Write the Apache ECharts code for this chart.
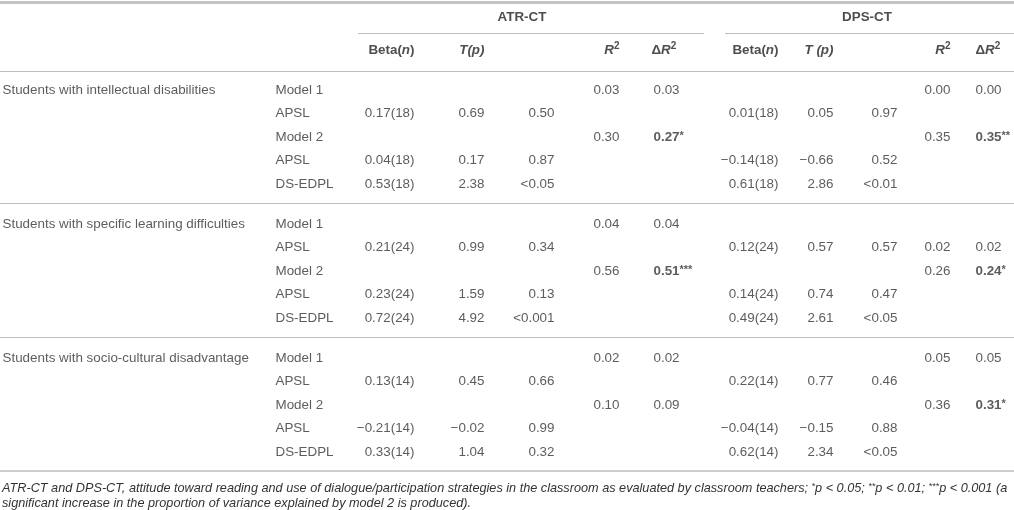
<!DOCTYPE html>
<html>
<head>
<meta charset="utf-8">
<script src="https://cdn.jsdelivr.net/npm/echarts@6/dist/echarts.min.js"></script>
<style>
  html, body { margin: 0; padding: 0; background: #fff; }
  #chart { width: 1014px; height: 510px; }
</style>
</head>
<body>
<div id="chart"></div>
<script>
// table content
var groups = [
  "Students with intellectual disabilities",
  "Students with specific learning difficulties",
  "Students with socio-cultural disadvantage"
];
var predictors = ["Model 1", "APSL", "Model 2", "APSL", "DS-EDPL"];

// 15 rows each: 3 groups x 5 predictor rows
var atrBeta = ["", "0.17(18)", "", "0.04(18)", "0.53(18)",
               "", "0.21(24)", "", "0.23(24)", "0.72(24)",
               "", "0.13(14)", "", "\u22120.21(14)", "0.33(14)"];
var atrT = ["", "0.69", "", "0.17", "2.38",
            "", "0.99", "", "1.59", "4.92",
            "", "0.45", "", "\u22120.02", "1.04"];
var atrP = ["", "0.50", "", "0.87", "<0.05",
            "", "0.34", "", "0.13", "<0.001",
            "", "0.66", "", "0.99", "0.32"];
var atrR2 = ["0.03", "", "0.30", "", "",
             "0.04", "", "0.56", "", "",
             "0.02", "", "0.10", "", ""];
var atrDR2 = ["0.03", "", "0.27*", "", "",
              "0.04", "", "0.51***", "", "",
              "0.02", "", "0.09", "", ""];
var dpsBeta = ["", "0.01(18)", "", "\u22120.14(18)", "0.61(18)",
               "", "0.12(24)", "", "0.14(24)", "0.49(24)",
               "", "0.22(14)", "", "\u22120.04(14)", "0.62(14)"];
var dpsT = ["", "0.05", "", "\u22120.66", "2.86",
            "", "0.57", "", "0.74", "2.61",
            "", "0.77", "", "\u22120.15", "2.34"];
var dpsP = ["", "0.97", "", "0.52", "<0.01",
            "", "0.57", "", "0.47", "<0.05",
            "", "0.46", "", "0.88", "<0.05"];
var dpsR2 = ["0.00", "", "0.35", "", "",
             "", "0.02", "0.26", "", "",
             "0.05", "", "0.36", "", ""];
var dpsDR2 = ["0.00", "", "0.35**", "", "",
              "", "0.02", "0.24*", "", "",
              "0.05", "", "0.31*", "", ""];

var footnote = "ATR-CT and DPS-CT, attitude toward reading and use of dialogue/participation strategies in the classroom as evaluated by classroom teachers; {s|*}p < 0.05; {s|**}p < 0.01; {s|***}p < 0.001 (a\nsignificant increase in the proportion of variance explained by model 2 is produced).";

// layout
var W = 1014, H = 510;
var firstRowY = 90, rowStep = 23.5, groupStep = 134;
var textColor = "#333";
var ruleColor = "#bdbdbd";
var fontFam = "Liberation Sans, Arial, sans-serif";
var fs = 13.4;

function rowY(i) {
  var g = Math.floor(i / 5), r = i % 5;
  return firstRowY + g * groupStep + r * rowStep;
}

// column anchors: x, alignment
var columns = [
  { key: "pred", values: [], x: 275, align: "left" },
  { key: "atrBeta", values: atrBeta, x: 415, align: "right" },
  { key: "atrT", values: atrT, x: 485, align: "right" },
  { key: "atrP", values: atrP, x: 555, align: "right" },
  { key: "atrR2", values: atrR2, x: 620, align: "right" },
  { key: "atrDR2", values: atrDR2, x: 653, align: "left" },
  { key: "dpsBeta", values: dpsBeta, x: 779, align: "right" },
  { key: "dpsT", values: dpsT, x: 834, align: "right" },
  { key: "dpsP", values: dpsP, x: 898, align: "right" },
  { key: "dpsR2", values: dpsR2, x: 951, align: "right" },
  { key: "dpsDR2", values: dpsDR2, x: 975, align: "left" }
];
for (var i = 0; i < 15; i++) columns[0].values.push(predictors[i % 5]);

var richStyles = {
  b: { fontWeight: "bold", fontSize: fs, color: textColor, fontFamily: fontFam },
  bs: { fontWeight: "bold", fontSize: 11, color: textColor, fontFamily: fontFam, padding: [0, 0, 2, 0] },
  h: { fontWeight: "bold", fontSize: fs, color: "#222", fontFamily: fontFam },
  hi: { fontWeight: "bold", fontStyle: "italic", fontSize: fs, color: "#222", fontFamily: fontFam },
  sup: { fontWeight: "bold", fontSize: 10, color: "#222", fontFamily: fontFam, padding: [0, 0, 7, 0] }
};

function cellText(v) {
  if (v.indexOf("*") < 0) return v;
  var k = v.indexOf("*");
  return "{b|" + v.slice(0, k) + "}{bs|" + v.slice(k) + "}";
}

function textSeries(name, points, align, fmt) {
  return {
    name: name,
    type: "scatter",
    symbolSize: 1,
    itemStyle: { color: "rgba(0,0,0,0)" },
    silent: true,
    data: points,
    label: {
      show: true,
      position: align === "left" ? "right" : "left",
      distance: 0,
      color: textColor,
      fontFamily: fontFam,
      fontSize: fs,
      rich: richStyles,
      formatter: fmt || function (p) { return p.data[2]; }
    }
  };
}

var series = [];

// group labels
var groupPts = groups.map(function (g, k) { return [2, rowY(k * 5), g]; });
series.push(textSeries("groups", groupPts, "left"));

// body cells
columns.forEach(function (c) {
  var pts = [];
  c.values.forEach(function (v, i) {
    if (v !== "") pts.push([c.x, rowY(i), v]);
  });
  series.push(textSeries(c.key, pts, c.align, function (p) { return cellText(p.data[2]); }));
});

// header row 2
var headY = 50;
var headers = [
  [415, "{h|Beta(}{hi|n}{h|)}", "right"],
  [485, "{hi|T(p)}", "right"],
  [620, "{hi|R}{sup|2}", "right"],
  [651, "{h|\u0394}{hi|R}{sup|2}", "left"],
  [779, "{h|Beta(}{hi|n}{h|)}", "right"],
  [834, "{hi|T (p)}", "right"],
  [951, "{hi|R}{sup|2}", "right"],
  [975, "{h|\u0394}{hi|R}{sup|2}", "left"]
];
["right", "left"].forEach(function (al) {
  var pts = headers.filter(function (h) { return h[2] === al; })
    .map(function (h) { return [h[0], headY, h[1]]; });
  series.push(textSeries("head-" + al, pts, al));
});

// header row 1 (centered over spans) + rules
series.push({
  name: "spans",
  type: "scatter",
  symbolSize: 1,
  itemStyle: { color: "rgba(0,0,0,0)" },
  silent: true,
  data: [[522, 17, "ATR-CT"], [867, 17, "DPS-CT"]],
  label: {
    show: true,
    position: "inside",
    color: "#222",
    fontWeight: "bold",
    fontSize: fs,
    fontFamily: fontFam,
    formatter: function (p) { return p.data[2]; }
  },
  markLine: {
    silent: true,
    symbol: "none",
    label: { show: false },
    animation: false,
    data: [
      [{ coord: [0, 2], lineStyle: { width: 3, color: "#c4c4c4", type: "solid" } }, { coord: [W, 2] }],
      [{ coord: [358, 33], lineStyle: { width: 1, color: ruleColor, type: "solid" } }, { coord: [704, 33] }],
      [{ coord: [725, 33], lineStyle: { width: 1, color: ruleColor, type: "solid" } }, { coord: [W, 33] }],
      [{ coord: [0, 71], lineStyle: { width: 1, color: ruleColor, type: "solid" } }, { coord: [W, 71] }],
      [{ coord: [0, 203], lineStyle: { width: 1, color: ruleColor, type: "solid" } }, { coord: [W, 203] }],
      [{ coord: [0, 337], lineStyle: { width: 1, color: ruleColor, type: "solid" } }, { coord: [W, 337] }],
      [{ coord: [0, 471], lineStyle: { width: 1.5, color: ruleColor, type: "solid" } }, { coord: [W, 471] }]
    ]
  }
});

var chart = echarts.init(document.getElementById("chart"));
chart.setOption({
  animation: false,
  backgroundColor: "#fff",
  title: {
    text: footnote,
    left: 2,
    top: 481,
    padding: 0,
    textStyle: {
      fontFamily: fontFam,
      fontSize: 12.7,
      fontStyle: "italic",
      fontWeight: "normal",
      color: textColor,
      lineHeight: 15,
      rich: {
        s: { fontSize: 9, fontStyle: "italic", color: textColor, fontFamily: fontFam, lineHeight: 15, padding: [0, 0, 5, 0] }
      }
    }
  },
  grid: { left: 0, right: 0, top: 0, bottom: 0 },
  xAxis: { type: "value", min: 0, max: W, show: false },
  yAxis: { type: "value", min: 0, max: H, inverse: true, show: false },
  series: series
});
</script>
</body>
</html>
